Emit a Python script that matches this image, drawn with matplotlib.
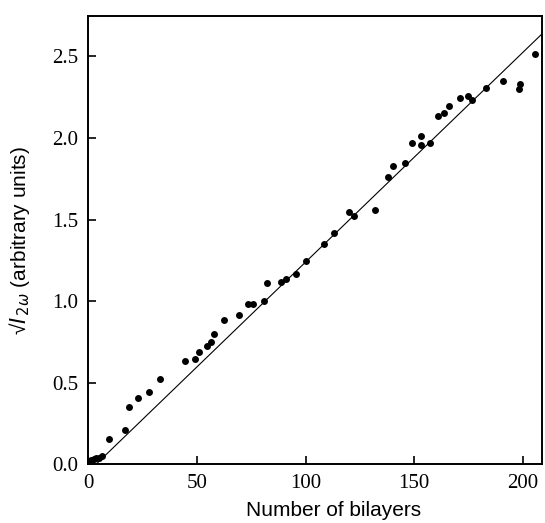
import matplotlib
matplotlib.use("Agg")
import matplotlib.pyplot as plt
import numpy as np

# data
bilayers = [1.1, 2.4, 3.7, 5.1, 6.1, 9.7, 16.9, 18.8, 22.7, 27.8, 32.9,
            44.7, 48.9, 50.8, 54.8, 56.7, 57.7, 62.6, 69.5, 73.6, 75.6,
            80.7, 82.4, 88.7, 91.2, 95.4, 100.3, 108.3, 113.3, 120.1, 122.2,
            132.1, 138.2, 140.1, 146.0, 149.2, 153.0, 153.2, 157.2, 160.8,
            163.9, 166.0, 170.9, 174.9, 176.7, 182.9, 190.9, 198.1, 198.9,
            205.8]
sqrt_i2w = [0.027, 0.031, 0.037, 0.040, 0.054, 0.158, 0.212, 0.354, 0.410,
            0.444, 0.521, 0.631, 0.646, 0.690, 0.725, 0.750, 0.800, 0.884,
            0.914, 0.986, 0.984, 1.000, 1.112, 1.116, 1.139, 1.169, 1.247,
            1.353, 1.418, 1.547, 1.520, 1.557, 1.762, 1.830, 1.847, 1.969,
            2.014, 1.955, 1.967, 2.133, 2.153, 2.194, 2.247, 2.255, 2.235,
            2.306, 2.347, 2.300, 2.333, 2.516]

# fitted straight line (end points)
fit_x = [0.0, 209.0]
fit_y = [-0.045, 2.640]

xticks = [0, 50, 100, 150, 200]
yticks = [0.0, 0.5, 1.0, 1.5, 2.0, 2.5]

fig = plt.figure(figsize=(5.45, 5.23), dpi=100)
ax = fig.add_axes([0.162, 0.112, 0.833, 0.858])

ax.plot(fit_x, fit_y, color="black", lw=0.8)
ax.plot(bilayers, sqrt_i2w, "o", color="black", ms=5, mew=0)

ax.set_xlim(0, 209)
ax.set_ylim(0, 2.75)
ax.set_xticks(xticks)
ax.set_yticks(yticks)
ax.set_xticklabels([str(t) for t in xticks], family="Liberation Serif", fontsize=15)
ax.set_yticklabels(["%.1f" % t for t in yticks], family="Liberation Serif", fontsize=15)
ax.tick_params(direction="in", length=6, width=1.2, pad=7)

for s in ax.spines.values():
    s.set_linewidth(1.4)

ax.set_xlabel("Number of bilayers", family="Liberation Sans", fontsize=15)
ax.xaxis.set_label_coords(0.541, -0.082)
ax.set_ylabel(r"√$\mathit{I}_{\,\mathrm{2}\omega}$ (arbitrary units)",
              family="Liberation Sans", fontsize=15)
ax.yaxis.set_label_coords(-0.125, 0.5)

fig.savefig("out.png", dpi=100)
